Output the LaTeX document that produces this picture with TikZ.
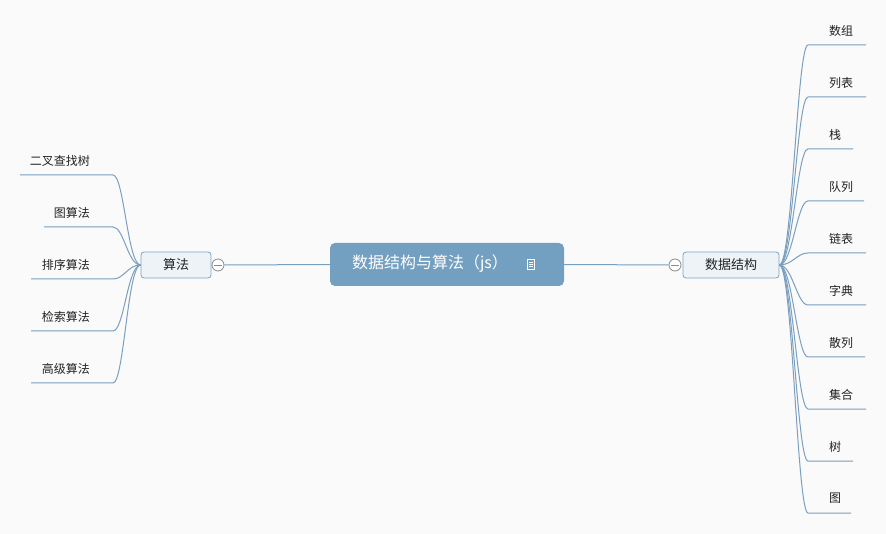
\documentclass[tikz,border=0pt]{standalone}
\usepackage{fontspec}
\setmainfont{Noto Sans CJK SC}
\usetikzlibrary{calc}
\definecolor{bg}{HTML}{FAFAFA}
\definecolor{lnk}{HTML}{7A9FC0}
\definecolor{mainfill}{HTML}{739FC0}
\definecolor{subfill}{HTML}{EEF3F7}
\definecolor{subdraw}{HTML}{7EA4C3}
\definecolor{txt}{HTML}{222222}
\definecolor{circ}{HTML}{8A8A8A}
\tikzset{
  link/.style={draw=lnk, line width=1pt},
  mainbox/.style={fill=mainfill, rounded corners=5pt, minimum width=234pt, minimum height=43pt, inner sep=0pt},
  subbox/.style={draw=subdraw, fill=subfill, rounded corners=3pt, line width=0.8pt, minimum height=26pt, inner sep=0pt, text=txt, font=\fontsize{13}{15}\selectfont},
  leafR/.style={anchor=west, inner sep=0pt, text=txt, font=\fontsize{12}{14}\selectfont},
  leafL/.style={anchor=east, inner sep=0pt, text=txt, font=\fontsize{12}{14}\selectfont},
  togg/.style={circle, draw=circ, fill=white, line width=0.8pt, minimum size=12pt, inner sep=0pt},
}
\begin{document}
\begin{tikzpicture}[x=1pt,y=-1pt]
\useasboundingbox[fill=bg] (0,0) rectangle (886,534);
% main node
\node[mainbox] (main) at (447,264.5) {};
\node[text=white, inner sep=0pt, font=\fontsize{16}{18}\selectfont] (title) at (430,264) {数据结构与算法（js）};
\node[draw=white, line width=0.8pt, minimum width=7.5pt, minimum height=9.5pt, inner sep=0pt] (icon) at (531,264.5) {};
\draw[white, line width=0.7pt] ($(icon.north west)+(1.8,2.8)$) -- ($(icon.north east)+(-1.8,2.8)$)
  ($(icon.north west)+(1.8,4.8)$) -- ($(icon.north east)+(-1.8,4.8)$)
  ($(icon.north west)+(1.8,6.8)$) -- ($(icon.north east)+(-1.8,6.8)$);
% sub nodes
\node[subbox, minimum width=70pt] (alg) at (176,265) {算法};
\node[subbox, minimum width=96pt] (ds) at (731,265) {数据结构};
\node[togg] (tl) at (218,265) {};
\draw[circ, line width=0.8pt] ($(tl.center)+(-4,0)$) -- ($(tl.center)+(4,0)$);
\node[togg] (tr) at (675,265) {};
\draw[circ, line width=0.8pt] ($(tr.center)+(-4,0)$) -- ($(tr.center)+(4,0)$);
\draw[link] (tl.east) -- (main.west);
\draw[link] (main.east) -- (tr.west);
% left leaves
\foreach \n/\t/\y/\xs in {a1/二叉查找树/175/20, a2/图算法/227/44, a3/排序算法/279/31, a4/检索算法/331/31, a5/高级算法/383/31}{
  \node[leafL] (\n) at (90,\y-14.5) {\t};
  \coordinate (\n s) at (\xs,\y);
  \coordinate (\n e) at (113,\y);
  \draw[link] (alg.west) .. controls +(-13,0) and +(11,0) .. (\n e) -- (\n s);
}
% right leaves
\foreach \n/\t/\y/\xe in {b1/数组/45/866, b2/列表/97/866, b3/栈/149/853, b4/队列/201/864, b5/链表/253/866, b6/字典/305/866, b7/散列/357/865, b8/集合/409/866, b9/树/461/853, b10/图/513/851}{
  \node[leafR] (\n) at (829,\y-14.5) {\t};
  \coordinate (\n s) at (808,\y);
  \coordinate (\n e) at (\xe,\y);
  \draw[link] (ds.east) .. controls +(13,0) and +(-11,0) .. (\n s) -- (\n e);
}
\end{tikzpicture}
\end{document}
